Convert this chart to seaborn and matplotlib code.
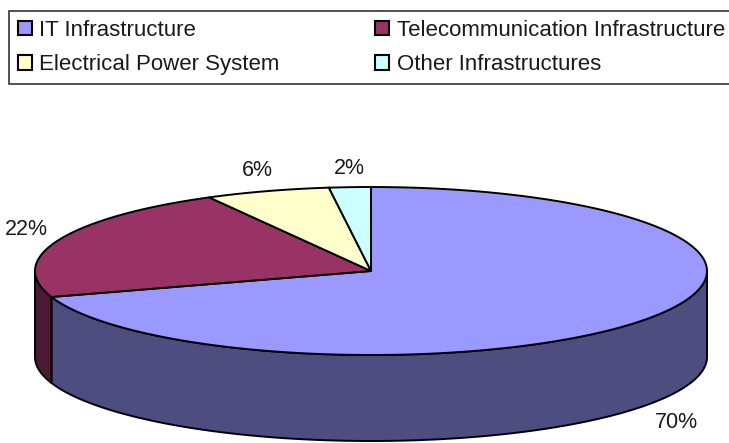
import numpy as np
import matplotlib
matplotlib.use("Agg")
import matplotlib.pyplot as plt
from matplotlib.patches import Patch
import seaborn as sns

categories = ["IT Infrastructure", "Telecommunication Infrastructure",
              "Electrical Power System", "Other Infrastructures"]
values = [70, 22, 6, 2]
top_colors = ["#9999FF", "#993366", "#FFFFCC", "#CCFFFF"]
side_colors = ["#4D4D80", "#4D1A33", "#808066", "#668080"]

W, H = 729, 443
CX, CY, RX, RY, DEPTH = 371, 271, 336, 84, 86

sns.set_theme(style="white")
plt.rcParams["font.family"] = ["Liberation Sans", "DejaVu Sans"]

fig = plt.figure(figsize=(W / 100, H / 100), dpi=100)
ax = fig.add_axes([0, 0, 1, 1])
ax.set_xlim(0, W)
ax.set_ylim(H, 0)
ax.axis("off")

# Slices run clockwise from twelve o'clock; the y axis points down,
# so a screen angle of -90 degrees is the top of the ellipse.
fractions = np.array(values) / sum(values)
edges = -90 + 360 * np.concatenate([[0], np.cumsum(fractions)])


def rim(a0, a1):
    t = np.radians(np.linspace(a0, a1, 200))
    return CX + RX * np.cos(t), CY + RY * np.sin(t)


# Outer wall: only the front half of the ellipse (0..180 degrees) is visible.
for i in range(len(values)):
    a0, a1 = max(edges[i], 0), min(edges[i + 1], 180)
    if a1 <= a0:
        continue
    x, y = rim(a0, a1)
    ax.fill(np.r_[x, x[::-1]], np.r_[y, y[::-1] + DEPTH],
            facecolor=side_colors[i], edgecolor="black", lw=1.4, zorder=2)

# Top face
for i in range(len(values)):
    x, y = rim(edges[i], edges[i + 1])
    ax.fill(np.r_[CX, x], np.r_[CY, y],
            facecolor=top_colors[i], edgecolor="black", lw=1.4, zorder=3)

# Percentage labels
label_pos = [(676, 423), (26, 229), (257, 171), (349, 168)]
for v, (lx, ly) in zip(values, label_pos):
    ax.text(lx, ly, f"{v}%", ha="center", va="center", fontsize=15.5, color="#1a1a1a")

# Legend box, filled column by column
order = [0, 2, 1, 3]
handles = [Patch(facecolor=top_colors[i], edgecolor="black", lw=1.5) for i in order]
labels = [categories[i] for i in order]
leg = fig.legend(handles, labels, ncol=2, loc="upper left",
                 bbox_to_anchor=(9 / W, 1 - 11 / H), bbox_transform=fig.transFigure,
                 fontsize=16, frameon=True, fancybox=False, edgecolor="#333333",
                 labelcolor="#1a1a1a", framealpha=1, borderaxespad=0, borderpad=0.4,
                 handlelength=0.62, handleheight=0.62, handletextpad=0.35,
                 columnspacing=4.3, labelspacing=0.6)
leg.get_frame().set_linewidth(1.2)

fig.savefig("out.png", dpi=100)
